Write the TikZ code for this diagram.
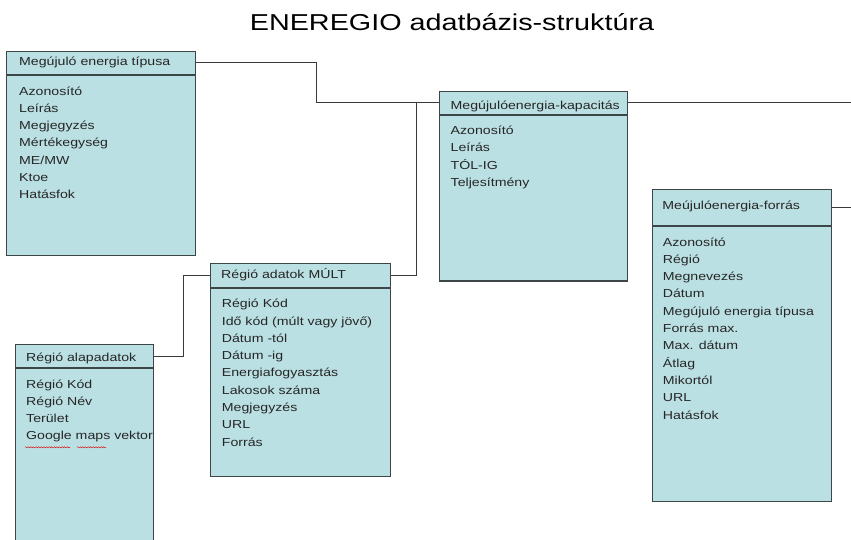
\documentclass[tikz,border=0pt]{standalone}
\usepackage{fontspec}
\setmainfont{Liberation Sans}[FakeStretch=1.22]
\newfontfamily\headfont{Liberation Sans}[FakeStretch=1.25]
\usetikzlibrary{positioning, calc, decorations.pathmorphing}
\definecolor{entFill}{HTML}{BBE0E3}
\definecolor{entLine}{HTML}{3C4646}
\definecolor{entText}{HTML}{262626}
\definecolor{linkGray}{HTML}{3A3A3A}

\begin{document}
\begin{tikzpicture}[
  x=1pt, y=-1pt,
  hdr/.style={rectangle, draw=entLine, fill=entFill, line width=0.9pt,
    anchor=north west, inner sep=0pt},
  body/.style={rectangle, draw=entLine, fill=entFill, line width=0.9pt,
    inner sep=0pt},
  ttl/.style={font=\fontsize{11.6}{14}\selectfont, text=entText, inner sep=0pt},
  fld/.style={font=\fontsize{11.6}{17.3}\selectfont, text=entText,
    align=left, inner sep=0pt},
  link/.style={draw=linkGray, line width=0.9pt},
  spell/.style={draw=red!85!black, line width=0.4pt, decorate,
    decoration={snake, amplitude=0.6pt, segment length=2.6pt}},
  node distance=0pt,
]
\clip (0,0) rectangle (851,539);

% Title
\node[font=\headfont\fontsize{23}{26}\selectfont] (title) at (452,22)
  {ENEREGIO adatbázis-struktúra};

% Megújuló energia típusa
\node[hdr, minimum width=189, minimum height=23.3] (tipusH) at (6,50.7) {};
\node[body, minimum width=189, minimum height=180, below=of tipusH] (tipusB) {};
\node[ttl, right=13pt of tipusH.west] (tipusT) {Megújuló energia típusa};
\node[fld, below right=11.4pt and 13pt of tipusH.south west] (tipusF)
  {Azonosító\\Leírás\\Megjegyzés\\Mértékegység\\ME/MW\\Ktoe\\Hatásfok};

% Megújulóenergia-kapacitás
\node[hdr, minimum width=188, minimum height=22.5] (kapH) at (439,91) {};
\node[body, line width=1.8pt, minimum width=188, minimum height=165.5,
  below=of kapH] (kapB) {};
\node[ttl, right=11.5pt of kapH.west, yshift=-4pt] (kapT) {Megújulóenergia-kapacitás};
\node[fld, below right=11.4pt and 11.5pt of kapH.south west] (kapF)
  {Azonosító\\Leírás\\TÓL-IG\\Teljesítmény};

% Meújulóenergia-forrás
\node[hdr, minimum width=179.3, minimum height=36] (forrasH) at (651.7,189) {};
\node[body, minimum width=179.3, minimum height=275, below=of forrasH] (forrasB) {};
\node[ttl, right=10.5pt of forrasH.west, yshift=1pt] (forrasT) {Meújulóenergia-forrás};
\node[fld, below right=11.4pt and 11pt of forrasH.south west] (forrasF)
  {Azonosító\\Régió\\Megnevezés\\Dátum\\Megújuló energia típusa\\Forrás max.\\%
   Max. dátum\\Átlag\\Mikortól\\URL\\Hatásfok};

% Régió alapadatok
\node[hdr, minimum width=138.3, minimum height=23] (alapH) at (14.7,344) {};
\node[body, minimum width=138.3, minimum height=200, below=of alapH] (alapB) {};
\node[ttl, right=11.3pt of alapH.west, yshift=-2pt] (alapT) {Régió alapadatok};
\node[fld, below right=11.4pt and 11.3pt of alapH.south west] (alapF)
  {Régió Kód\\Régió Név\\Terület\\Google maps vektor};
\draw[spell] ($(alapF.north west)+(-1,68)$) -- ++(45,0);
\draw[spell] ($(alapF.north west)+(51,68)$) -- ++(29,0);

% Régió adatok MÚLT
\node[hdr, minimum width=180, minimum height=24] (multH) at (210,262.7) {};
\node[body, minimum width=180, minimum height=188.3, below=of multH] (multB) {};
\node[ttl, right=11pt of multH.west] (multT) {Régió adatok MÚLT};
\node[fld, below right=11.4pt and 11.7pt of multH.south west] (multF)
  {Régió Kód\\Idő kód (múlt vagy jövő)\\Dátum -tól\\Dátum -ig\\%
   Energiafogyasztás\\Lakosok száma\\Megjegyzés\\URL\\Forrás};

% Links
\coordinate (rim) at (851,0);
\draw[link] (tipusH.east) -- ++(121,0) |- (kapH.west);
\draw[link] (multH.east) -- ++(26,0) |- (kapH.west);
\draw[link] (alapH.east) -- ++(29.7,0) |- (multH.west);
\draw[link] (kapH.east) -- (kapH.east -| rim);
\draw[link] (forrasH.east) -- (forrasH.east -| rim);

\end{tikzpicture}
\end{document}
